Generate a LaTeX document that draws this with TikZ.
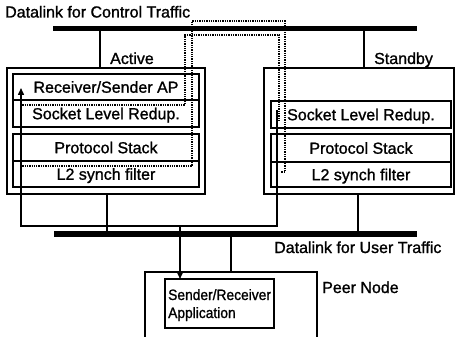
\documentclass[tikz,border=0pt]{standalone}
\usepackage{fontspec}
\setmainfont{Liberation Sans}[FakeBold=1.2]
\newfontfamily\appfont{Liberation Sans}[FakeBold=1.2,FakeStretch=0.92]
\usetikzlibrary{arrows.meta}
\begin{document}
\begin{tikzpicture}[x=1pt,y=-1pt,
  box/.style={draw,line width=1.8pt,inner sep=0pt,outer sep=0pt,text height=11.5pt,text depth=0pt},
  bar/.style={fill=black,inner sep=0pt,outer sep=0pt},
  wire/.style={line width=1.5pt},
  dotline/.style={line width=1.4pt,dash pattern=on 1.3pt off 1pt},
  lbl/.style={inner sep=0pt,anchor=base west},
  tip/.style={-{Triangle[length=7pt,width=6pt]}},
  font=\fontsize{16}{19}\selectfont]
\useasboundingbox (0,0) rectangle (456,337);

% the two datalinks
\node[bar,minimum width=364pt,minimum height=5.5pt] (ctl) at (235,28.5) {};
\node[bar,minimum width=363pt,minimum height=6pt] (usr) at (235.5,234) {};
\node[lbl] (ctlLbl) at (5,17.5) {Datalink for Control Traffic};
\node[lbl] (usrLbl) at (274,253) {Datalink for User Traffic};

% active node
\node[box,minimum width=198pt,minimum height=126pt] (act) at (106,131) {};
\node[box,minimum width=186pt,minimum height=26pt] (aAP) at (106,87) {Receiver/Sender AP};
\node[box,minimum width=186pt,minimum height=27pt] (aSock) at (106,113.5) {Socket Level Redup.};
\node[box,minimum width=186pt,minimum height=27pt] (aProt) at (106,147.5) {Protocol Stack};
\node[box,minimum width=186pt,minimum height=26pt] (aL2) at (106,174) {L2 synch filter};
\node[lbl] (actLbl) at (110,64) {Active};

% standby node
\node[box,minimum width=190pt,minimum height=126pt] (sby) at (359,131) {};
\node[box,minimum width=180pt,minimum height=27pt] (sSock) at (361,114.5) {Socket Level Redup.};
\node[box,minimum width=180pt,minimum height=28pt] (sProt) at (361,148) {Protocol Stack};
\node[box,minimum width=180pt,minimum height=25pt] (sL2) at (361,174.5) {L2 synch filter};
\node[lbl] (sbyLbl) at (374,64) {Standby};

% peer node
\node[box,minimum width=172pt,minimum height=78pt] (peer) at (231,311) {};
\node[box,minimum width=109pt,minimum height=49pt] (app) at (219.5,303.5) {};
\node[lbl,font=\appfont\fontsize{15}{18}\selectfont] (appL1) at (168,300) {Sender/Receiver};
\node[lbl,font=\appfont\fontsize{15}{18}\selectfont] (appL2) at (168,318) {Application};
\node[lbl] (peerLbl) at (322,293) {Peer Node};

% attachment columns
\coordinate (aUp) at (100,0);
\coordinate (sUp) at (364,0);
\coordinate (aDn) at (107,0);
\coordinate (sDn) at (358,0);
\coordinate (pIn) at (231,0);
\coordinate (tap) at (180,0);

\draw[wire] (ctl.south -| aUp) -- (act.north -| aUp);
\draw[wire] (ctl.south -| sUp) -- (sby.north -| sUp);
\draw[wire] (act.south -| aDn) -- (usr.north -| aDn);
\draw[wire] (sby.south -| sDn) -- (usr.north -| sDn);
\draw[wire] (usr.south -| pIn) -- (peer.north -| pIn);

% user traffic path between standby, active and the peer
\coordinate (rStart) at (277,110);
\coordinate (rTurn) at (277,226);
\coordinate (lTurn) at (21,226);
\coordinate (arrTip) at (21,88);
\draw[wire,tip] (rStart) -- (rTurn) -- (lTurn) -- (arrTip);
\draw[wire,tip] (lTurn -| tap) -- (app.north -| tap);

% control traffic paths over the upper datalink
\coordinate (p1a) at (20,105);
\coordinate (p1b) at (185,105);
\coordinate (p1c) at (185,35);
\coordinate (p1d) at (279,35);
\coordinate (p1e) at (279,122);
\draw[dotline] (p1a) -- (p1b) -- (p1c) -- (p1d) -- (p1e);

\coordinate (p2a) at (20,166);
\coordinate (p2b) at (192,166);
\coordinate (p2c) at (192,21);
\coordinate (p2d) at (285,21);
\coordinate (p2e) at (285,172);
\coordinate (p2f) at (281,172);
\draw[dotline] (p2a) -- (p2b) -- (p2c) -- (p2d) -- (p2e) -- (p2f);
\end{tikzpicture}
\end{document}
